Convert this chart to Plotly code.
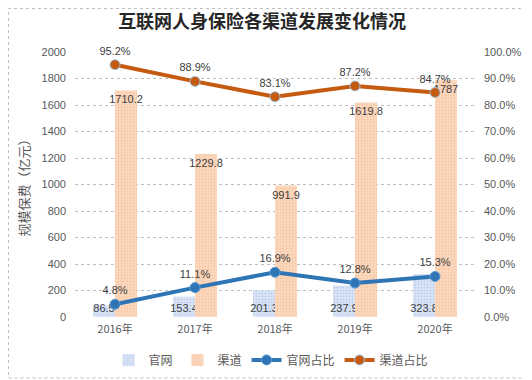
import plotly.graph_objects as go

years = ["2016年", "2017年", "2018年", "2019年", "2020年"]
guanwang = [86.5, 153.4, 201.3, 237.9, 323.8]
qudao = [1710.2, 1229.8, 991.9, 1619.8, 1787]
guanwang_pct = [0.048, 0.111, 0.169, 0.128, 0.153]
qudao_pct = [0.952, 0.889, 0.831, 0.872, 0.847]

gray = "#595959"
fsans = "Liberation Sans, Noto Sans CJK SC, sans-serif"
fcjk = "Noto Sans CJK SC, sans-serif"

fig = go.Figure()
fig.add_trace(go.Bar(
    x=years, y=guanwang, name="官网",
    marker=dict(color="#c9d7f1", pattern=dict(shape=".", fgcolor="#9db5e3", bgcolor="#dbe5f6", size=3, solidity=0.35), line=dict(width=0)),
    text=[f"{v:g}" for v in guanwang], textposition="inside", insidetextanchor="start", textangle=0,
    textfont=dict(color="#404040", size=11, family=fsans),
))
fig.add_trace(go.Bar(
    x=years, y=qudao, name="渠道",
    marker=dict(color="#f9c9a6", pattern=dict(shape=".", fgcolor="#f4b183", bgcolor="#fbd9c0", size=3, solidity=0.35), line=dict(width=0)),
    text=[f"{v:g}" for v in qudao], textposition="inside", insidetextanchor="end", textangle=0,
    textfont=dict(color="#404040", size=11, family=fsans),
))
fig.add_trace(go.Scatter(
    x=years, y=guanwang_pct, name="官网占比", yaxis="y2", mode="lines+markers+text",
    line=dict(color="#2e75b6", width=4),
    marker=dict(size=10, color="#2e75b6", line=dict(color="#5b9bd5", width=1)),
    text=[f"{v*100:.1f}%" for v in guanwang_pct], textposition="top center", cliponaxis=False,
    textfont=dict(color="#404040", size=11, family=fsans),
))
fig.add_trace(go.Scatter(
    x=years, y=qudao_pct, name="渠道占比", yaxis="y2", mode="lines+markers+text",
    line=dict(color="#c55a11", width=4),
    marker=dict(size=10, color="#c55a11", line=dict(color="#9dc3e6", width=1)),
    text=[f"{v*100:.1f}%" for v in qudao_pct], textposition="top center", cliponaxis=False,
    textfont=dict(color="#404040", size=11, family=fsans),
))

# page has an 8px body margin, so the figure is sized/offset to compensate
fig.update_layout(
    width=524, height=372,
    margin=dict(l=67, r=57, t=44, b=63, autoexpand=False),
    paper_bgcolor="white", plot_bgcolor="white",
    title=dict(text="<b>互联网人身保险各渠道发展变化情况</b>", x=0.485, xanchor="center", y=0.962, yanchor="middle",
               font=dict(family=fcjk, size=18, color="#262626")),
    barmode="group", bargap=0.45, bargroupgap=0,
    uniformtext=dict(mode="show", minsize=11),
    showlegend=True,
    legend=dict(orientation="h", x=0.49, xanchor="center", y=-0.162, yanchor="middle",
                font=dict(family=fcjk, size=12, color=gray), tracegroupgap=0),
    xaxis=dict(showgrid=False, showline=False, ticks="", ticklabelstandoff=4,
               tickfont=dict(family=fcjk, size=11, color=gray)),
    yaxis=dict(range=[0, 2000], dtick=200, showgrid=True, gridcolor="#bfbfbf", griddash="dot", gridwidth=1,
               zeroline=False, ticklabelstandoff=8, tickfont=dict(family=fsans, size=11, color=gray),
               title=dict(text="规模保费（亿元）", font=dict(family=fcjk, size=13, color=gray), standoff=8)),
    yaxis2=dict(range=[0, 1.0], dtick=0.1, tickformat=".1%", overlaying="y", side="right", showgrid=False,
                zeroline=False, ticklabelstandoff=8, tickfont=dict(family=fsans, size=11, color=gray)),
    shapes=[dict(type="rect", xref="paper", yref="paper", x0=0.5 / 400 - 67 / 400, x1=1.1375,
                 y0=-0.23, y1=1 + 43.5 / 265,
                 line=dict(color="#bfbfbf", width=1, dash="dot"))],
)

fig.write_html("out.html")
